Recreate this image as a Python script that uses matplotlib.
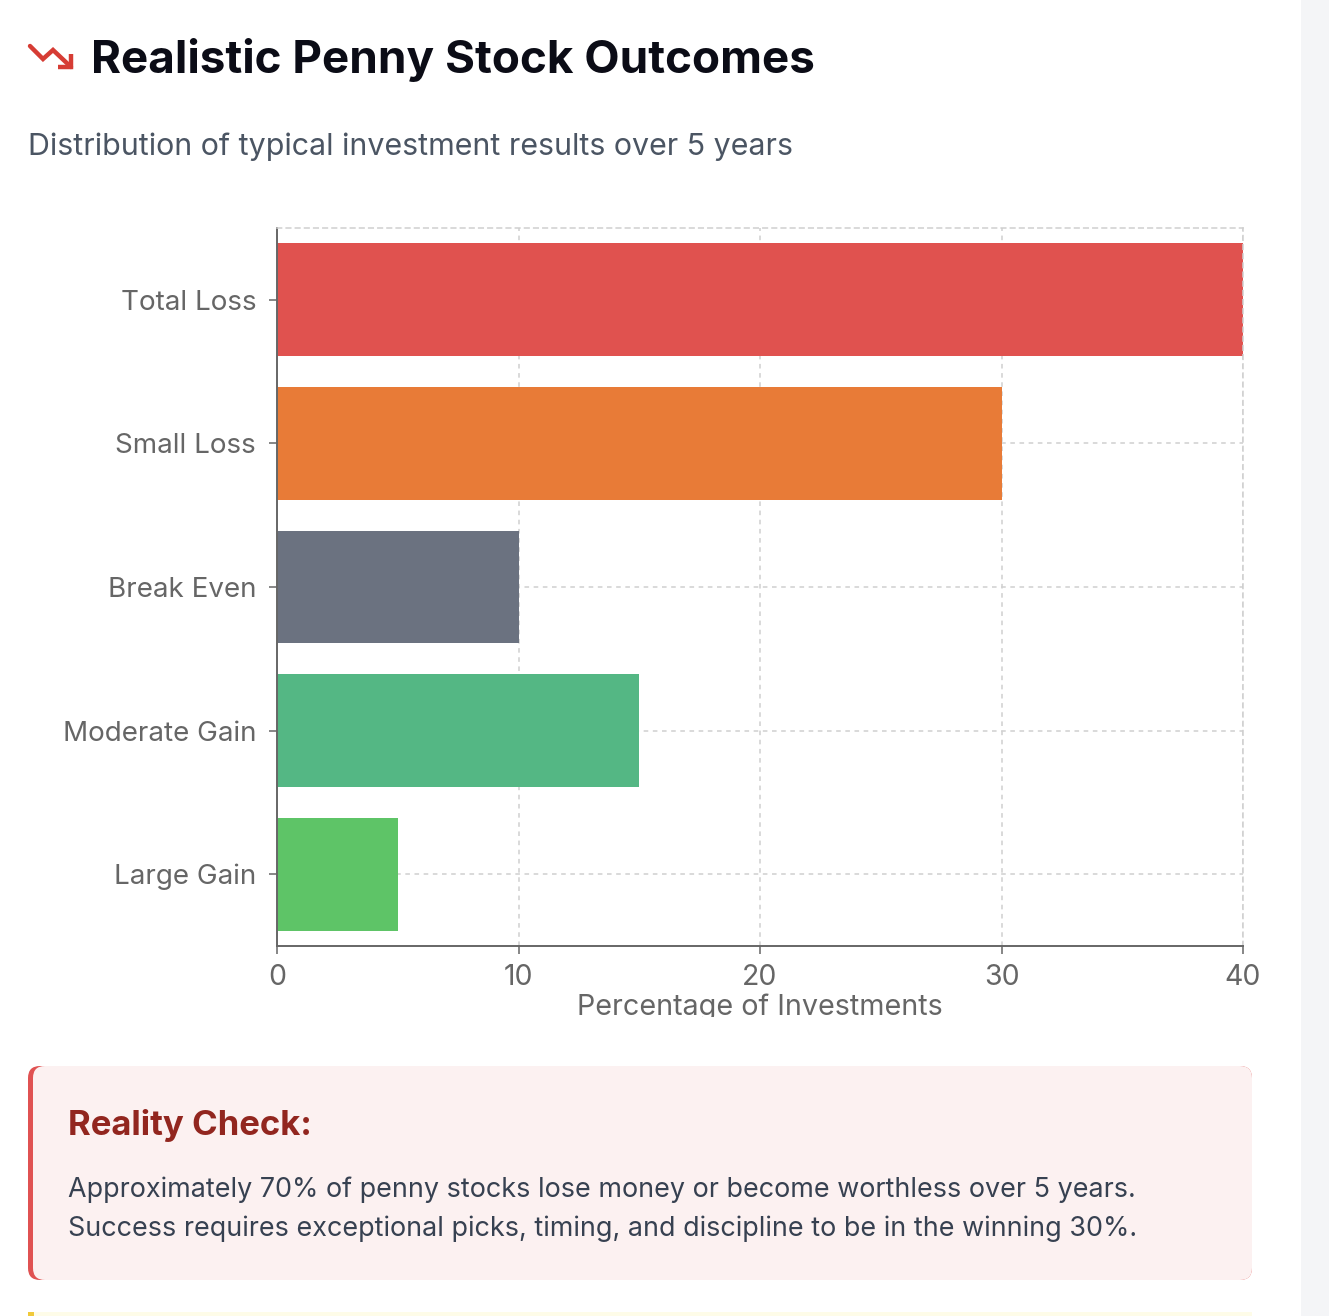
import matplotlib
matplotlib.use("Agg")
import matplotlib.pyplot as plt
from matplotlib.patches import FancyBboxPatch, Rectangle
from matplotlib.lines import Line2D

categories = ["Total Loss", "Small Loss", "Break Even", "Moderate Gain", "Large Gain"]
values = [40, 30, 10, 15, 5]
colors = ["#E0524F", "#E87B37", "#6B7280", "#54B784", "#5EC467"]
xticks = [0, 10, 20, 30, 40]

title = "Realistic Penny Stock Outcomes"
subtitle = "Distribution of typical investment results over 5 years"
xlabel = "Percentage of Investments"
callout_title = "Reality Check:"
callout_lines = [
    "Approximately 70% of penny stocks lose money or become worthless over 5 years.",
    "Success requires exceptional picks, timing, and discipline to be in the winning 30%.",
]

plt.rcParams['font.family'] = ['Inter', 'DejaVu Sans']

W, H = 1329, 1316
fig = plt.figure(figsize=(W / 100, H / 100), dpi=100)
fig.patch.set_facecolor("white")

# chart axes
L, R, T, B = 277, 1243, 228, 946
ax = fig.add_axes([L / W, 1 - B / H, (R - L) / W, (B - T) / H], zorder=1)
ypos = list(range(len(categories)))
ax.barh(ypos, values, height=0.785, color=colors, edgecolor="none", zorder=2)
ax.set_ylim(len(categories) - 0.5, -0.5)
ax.set_xlim(0, 40)
ax.set_yticks(ypos)
ax.set_yticklabels(categories)
ax.set_xticks(xticks)
ax.set_xticklabels([str(v) for v in xticks])
ax.grid(True, color="#D0D0D0", linestyle=(0, (3, 3)), linewidth=1.1, zorder=0)
ax.set_axisbelow(True)
for s in ["top", "right"]:
    ax.spines[s].set_color("#CFCFCF")
    ax.spines[s].set_linestyle((0, (3, 3)))
    ax.spines[s].set_linewidth(1.1)
for s in ["left", "bottom"]:
    ax.spines[s].set_color("#666666")
    ax.spines[s].set_linewidth(1.4)
ax.tick_params(axis="both", colors="#666666", labelcolor="#666666", labelsize=20,
               length=6, width=1.1)
ax.tick_params(axis="y", pad=9)
ax.tick_params(axis="x", pad=7, labelsize=20.5)
ax.set_xlabel(xlabel, fontsize=20.7, color="#666666", labelpad=1.5)

# overlay axes in pixel coords
ov = fig.add_axes([0, 0, 1, 1], zorder=2)
ov.set_xlim(0, W)
ov.set_ylim(H, 0)
ov.axis("off")
ov.patch.set_alpha(0)

# right strip
ov.add_patch(Rectangle((1301, 0), 28, H, facecolor="#F4F5F7", edgecolor="none"))

# clip x label bottom
ov.add_patch(Rectangle((200, 1017), 1000, 40, facecolor="white", edgecolor="none"))

# icon
ov.add_line(Line2D([30, 43, 53, 71], [46, 59, 50, 67], color="#D63C34", lw=3.2,
                   solid_capstyle="round", solid_joinstyle="miter"))
ov.add_line(Line2D([58, 71, 71], [67, 67, 54], color="#D63C34", lw=3.2,
                   solid_capstyle="butt", solid_joinstyle="miter"))

ov.text(91, 60, title, fontsize=33, fontweight="bold", color="#0B0C16",
        va="center", ha="left")
ov.text(28, 147, subtitle, fontsize=21.9, color="#4B5563", va="center", ha="left")

# callout
ov.add_patch(FancyBboxPatch((28, 1066), 1224, 214, boxstyle="round,pad=0,rounding_size=12",
                            facecolor="#E05252", edgecolor="none"))
ov.add_patch(FancyBboxPatch((33, 1066), 1219, 214, boxstyle="round,pad=0,rounding_size=12",
                            facecolor="#FCF1F1", edgecolor="none"))
ov.text(68, 1126, callout_title, fontsize=25, fontweight="bold", color="#92261F",
        va="center", ha="left")
for i, line in enumerate(callout_lines):
    ov.text(68, 1190 + 39 * i, line, fontsize=19.4, color="#374151", va="center", ha="left")

# bottom yellow strip
ov.add_patch(Rectangle((28, 1312), 1224, 6, facecolor="#FEFCE8", edgecolor="none"))
ov.add_patch(Rectangle((28, 1312), 6, 6, facecolor="#F0C93A", edgecolor="none"))

fig.savefig("out.png", dpi=100, facecolor="white")
